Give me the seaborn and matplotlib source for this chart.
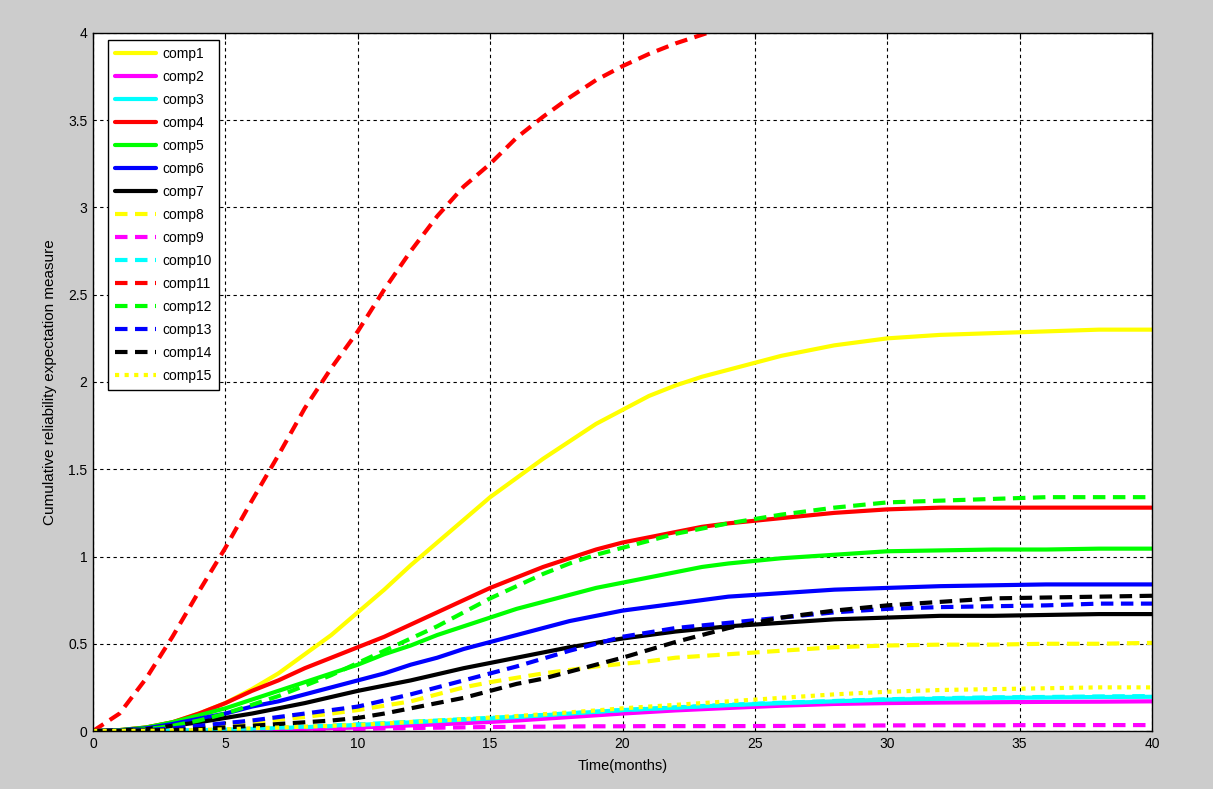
import seaborn as sns
import matplotlib.pyplot as plt
import numpy as np
import pandas as pd
from matplotlib.ticker import FormatStrFormatter

# months: monthly up to 24, then every 2
months = list(range(0, 25)) + list(range(26, 41, 2))

comp1 = [0, 0.005, 0.02, 0.05, 0.1, 0.16, 0.24, 0.33, 0.44, 0.55, 0.68, 0.81, 0.95, 1.08, 1.21, 1.34, 1.45,
         1.56, 1.66, 1.76, 1.84, 1.92, 1.98, 2.03, 2.07, 2.15, 2.21, 2.25, 2.27, 2.28, 2.29, 2.30, 2.30]
comp2 = [0, 0, 0, 0.001, 0.002, 0.004, 0.006, 0.009, 0.012, 0.016, 0.02, 0.026, 0.032, 0.038, 0.045, 0.052, 0.06,
         0.07, 0.08, 0.09, 0.1, 0.109, 0.118, 0.125, 0.132, 0.145, 0.155, 0.16, 0.163, 0.165, 0.167, 0.168, 0.17]
comp3 = [0, 0, 0.001, 0.003, 0.005, 0.008, 0.012, 0.017, 0.022, 0.028, 0.035, 0.042, 0.05, 0.057, 0.065, 0.072, 0.08,
         0.09, 0.1, 0.11, 0.12, 0.127, 0.134, 0.141, 0.148, 0.16, 0.17, 0.18, 0.185, 0.19, 0.192, 0.195, 0.196]
comp4 = [0, 0.005, 0.02, 0.05, 0.1, 0.16, 0.23, 0.29, 0.36, 0.42, 0.48, 0.54, 0.61, 0.68, 0.75, 0.82, 0.88,
         0.94, 0.99, 1.04, 1.08, 1.11, 1.14, 1.17, 1.19, 1.22, 1.25, 1.27, 1.28, 1.28, 1.28, 1.28, 1.28]
comp5 = [0, 0.005, 0.02, 0.05, 0.09, 0.13, 0.18, 0.23, 0.28, 0.33, 0.38, 0.44, 0.49, 0.55, 0.6, 0.65, 0.7,
         0.74, 0.78, 0.82, 0.85, 0.88, 0.91, 0.94, 0.96, 0.99, 1.01, 1.03, 1.035, 1.04, 1.04, 1.045, 1.045]
comp6 = [0, 0.004, 0.015, 0.04, 0.07, 0.1, 0.14, 0.17, 0.21, 0.25, 0.29, 0.33, 0.38, 0.42, 0.47, 0.51, 0.55,
         0.59, 0.63, 0.66, 0.69, 0.71, 0.73, 0.75, 0.77, 0.79, 0.81, 0.82, 0.83, 0.835, 0.84, 0.84, 0.84]
comp7 = [0, 0.003, 0.01, 0.03, 0.05, 0.075, 0.1, 0.13, 0.16, 0.195, 0.23, 0.26, 0.29, 0.325, 0.36, 0.39, 0.42,
         0.45, 0.48, 0.505, 0.53, 0.55, 0.57, 0.585, 0.6, 0.62, 0.64, 0.65, 0.66, 0.66, 0.665, 0.67, 0.67]
comp8 = [0, 0.001, 0.005, 0.012, 0.025, 0.037, 0.05, 0.065, 0.08, 0.1, 0.12, 0.145, 0.17, 0.21, 0.25, 0.28, 0.305,
         0.33, 0.35, 0.37, 0.385, 0.4, 0.42, 0.43, 0.44, 0.46, 0.48, 0.49, 0.495, 0.495, 0.5, 0.5, 0.505]
comp9 = [0, 0, 0, 0, 0.001, 0.002, 0.003, 0.005, 0.007, 0.01, 0.012, 0.015, 0.017, 0.019, 0.021, 0.023, 0.024,
         0.025, 0.026, 0.027, 0.027, 0.028, 0.028, 0.028, 0.028, 0.029, 0.03, 0.032, 0.033, 0.033, 0.034, 0.034, 0.034]
comp10 = [0, 0, 0.001, 0.003, 0.006, 0.01, 0.014, 0.019, 0.025, 0.031, 0.038, 0.045, 0.053, 0.06, 0.068, 0.075, 0.083,
          0.092, 0.102, 0.111, 0.12, 0.128, 0.135, 0.143, 0.15, 0.162, 0.172, 0.182, 0.188, 0.193, 0.195, 0.198, 0.2]
comp11 = [0, 0.1, 0.3, 0.54, 0.8, 1.05, 1.32, 1.58, 1.85, 2.08, 2.29, 2.53, 2.75, 2.95, 3.12, 3.25, 3.4,
          3.52, 3.63, 3.73, 3.81, 3.88, 3.94, 3.99, 4.04, 4.12, 4.18, 4.22, 4.25, 4.27, 4.28, 4.29, 4.3]
comp12 = [0, 0.002, 0.01, 0.03, 0.06, 0.1, 0.15, 0.2, 0.26, 0.32, 0.39, 0.46, 0.53, 0.6, 0.68, 0.76, 0.83,
          0.9, 0.96, 1.01, 1.05, 1.09, 1.13, 1.16, 1.19, 1.24, 1.28, 1.31, 1.32, 1.33, 1.34, 1.34, 1.34]
comp13 = [0, 0.001, 0.005, 0.015, 0.03, 0.045, 0.06, 0.08, 0.1, 0.12, 0.14, 0.175, 0.21, 0.25, 0.29, 0.33, 0.37,
          0.415, 0.46, 0.5, 0.54, 0.565, 0.59, 0.605, 0.62, 0.65, 0.68, 0.7, 0.71, 0.715, 0.72, 0.73, 0.73]
comp14 = [0, 0, 0.003, 0.006, 0.01, 0.02, 0.03, 0.04, 0.05, 0.06, 0.075, 0.1, 0.13, 0.16, 0.19, 0.23, 0.27,
          0.3, 0.34, 0.38, 0.42, 0.465, 0.51, 0.55, 0.59, 0.65, 0.69, 0.72, 0.74, 0.76, 0.765, 0.77, 0.775]
comp15 = [0, 0, 0.001, 0.003, 0.005, 0.01, 0.015, 0.02, 0.025, 0.03, 0.035, 0.043, 0.052, 0.06, 0.068, 0.077, 0.086,
          0.096, 0.107, 0.118, 0.13, 0.14, 0.15, 0.16, 0.17, 0.19, 0.21, 0.225, 0.235, 0.24, 0.245, 0.25, 0.25]

names = ["comp%d" % i for i in range(1, 16)]
series = [comp1, comp2, comp3, comp4, comp5, comp6, comp7, comp8,
          comp9, comp10, comp11, comp12, comp13, comp14, comp15]

colors = ["#ffff00", "#ff00ff", "#00ffff", "#ff0000", "#00ff00", "#0000ff", "#000000"]
colors = colors + colors + ["#ffff00"]
solid = "-"
dashed = (0, (3, 1.8))
dotted = (0, (1, 1.3))
styles = [solid] * 7 + [dashed] * 7 + [dotted]

sns.set_style("white")
plt.rcParams["font.family"] = ["Liberation Sans", "DejaVu Sans"]
plt.rcParams["text.color"] = "black"
plt.rcParams["axes.labelcolor"] = "black"

fig = plt.figure(figsize=(12.13, 7.89), dpi=100, facecolor="#cccccc")
ax = fig.add_axes([0.0767, 0.0735, 0.873, 0.8847])
ax.set_facecolor("white")

for name, vals, c, ls in zip(names, series, colors, styles):
    sns.lineplot(x=months, y=vals, color=c, linestyle=ls, linewidth=3,
                 label=name, ax=ax)

ax.set_xlim(0, 40)
ax.set_ylim(0, 4)
ax.set_xticks(np.arange(0, 41, 5))
ax.set_yticks(np.arange(0, 4.01, 0.5))
ax.yaxis.set_major_formatter(FormatStrFormatter("%g"))
ax.grid(True, color="black", linestyle=(0, (3, 3)), linewidth=0.8)
ax.tick_params(direction="in", length=4, width=0.8, labelsize=10,
               top=True, right=True, colors="black", pad=4)
for s in ax.spines.values():
    s.set_visible(True)
    s.set_color("black")
    s.set_linewidth(1)

ax.set_xlabel("Time(months)", fontsize=10.5, labelpad=6)
ax.set_ylabel("Cumulative reliability expectation measure", fontsize=11, labelpad=8)

leg = ax.legend(loc="upper left", bbox_to_anchor=(0.014, 0.99), borderaxespad=0,
                fontsize=10, handlelength=3.0, handletextpad=0.45,
                labelspacing=0.65, borderpad=0.5, fancybox=False,
                framealpha=1, edgecolor="black")
leg.get_frame().set_linewidth(1)

fig.savefig("out.png", dpi=100, facecolor=fig.get_facecolor())
